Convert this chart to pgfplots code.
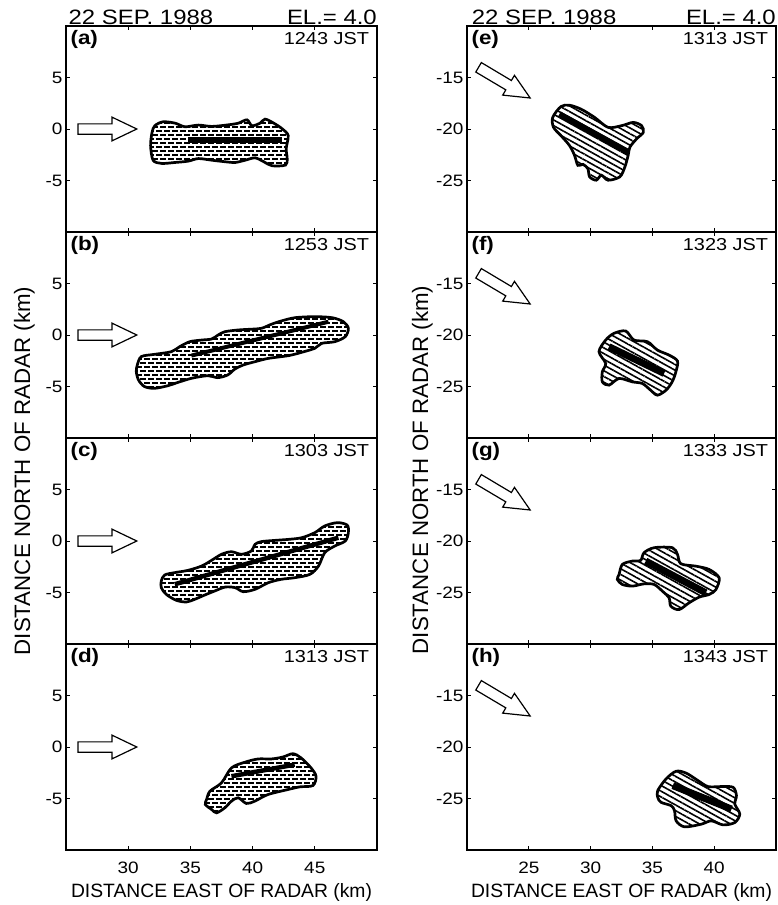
\documentclass[border=0pt]{standalone}
\usepackage{fontspec}
\setmainfont{Liberation Sans}[FakeStretch=1.15]
\newfontfamily\lblfont{Liberation Sans}
\usepackage{pgfplots}
\pgfplotsset{compat=1.18}
\usetikzlibrary{patterns,patterns.meta}

\pgfdeclarepatternformonly{hdash}{\pgfqpoint{-1pt}{-1pt}}{\pgfqpoint{11pt}{9pt}}{\pgfqpoint{8pt}{8pt}}{%
  \pgfsetlinewidth{1.5pt}%
  \pgfpathmoveto{\pgfqpoint{0pt}{2pt}}\pgfpathlineto{\pgfqpoint{5.5pt}{2pt}}%
  \pgfpathmoveto{\pgfqpoint{4pt}{6pt}}\pgfpathlineto{\pgfqpoint{9.5pt}{6pt}}%
  \pgfusepath{stroke}}

\pgfplotsset{
  base/.style={scale only axis, height=206pt, anchor=north west, clip=false,
    axis line style={line width=1.3pt}, major tick length=4pt,
    every tick/.style={black, line width=0.9pt},
    tick label style={font=\fontsize{16.5}{17}\selectfont},
    xticklabel style={anchor=base, yshift=-23pt}},
  leftcol/.style={base, width=311pt, xmin=25, xmax=50, ymin=-10, ymax=10,
    xtick={30,35,40,45}, ytick={-5,0,5}, yticklabels={-5,0,5}},
  rightcol/.style={base, width=309pt, xmin=20, xmax=45, ymin=-30, ymax=-10,
    xtick={25,30,35,40}, ytick={-25,-20,-15}, yticklabels={-25,-20,-15}},
  cellL/.style={draw=black, line width=2.7pt, smooth cycle, pattern=hdash},
  cellR/.style={draw=black, line width=2.7pt, smooth cycle, pattern={Lines[angle=-29,distance=5pt,line width=1.6pt]}},
  band/.style={black, line width=#1},
  arr/.style={draw=black, line width=1.2pt, fill=white, line join=miter},
}
\newcommand{\paneltext}[2]{%
  \node[anchor=north west, inner sep=0pt, font=\bfseries\fontsize{19.5}{20}\selectfont] at (rel axis cs:0.014,0.978) {(#1)};
  \node[anchor=north east, inner sep=0pt, font=\fontsize{17.3}{18}\selectfont] at (rel axis cs:0.975,0.972) {#2 JST};}
\newcommand{\larrow}{\addplot[arr] coordinates {(25.96,0.5) (28.7,0.5) (28.7,1.15) (30.69,0) (28.7,-1.15) (28.7,-0.5) (25.96,-0.5)} -- cycle;}
\newcommand{\rarrow}{\addplot[arr] coordinates {(21.16,-13.55) (23.59,-15.29) (23.84,-14.79) (25.11,-16.99) (22.89,-16.71) (23.14,-16.20) (20.71,-14.47)} -- cycle;}

\begin{document}
\begin{tikzpicture}
\useasboundingbox (0pt,0pt) rectangle (778pt,-905pt);
% ---------------- left column ----------------
\begin{axis}[leftcol, at={(66pt,-26pt)}, xticklabels={}]
\larrow
\addplot[cellL] coordinates {(32.14,0.32) (32.8,0.7) (33.76,0.57) (34.56,0.22) (35.64,0.38) (36.72,0.25) (38.07,0.41) (38.87,0.57) (39.55,0.89) (39.95,0.32) (40.6,0.57) (41.0,0.96) (41.7,0.57) (42.4,0) (42.86,-0.64) (42.7,-1.91) (42.78,-2.87) (42.65,-3.5) (41.57,-3.57) (40.9,-3.18) (40.2,-2.8) (39.4,-3.03) (38.6,-3.25) (37.8,-3.18) (36.72,-3.03) (35.64,-2.87) (34.83,-3.12) (33.76,-3.25) (32.68,-3.34) (32.0,-3.03) (31.8,-1.59) (31.92,-0.32)};
\addplot[band=6pt] coordinates {(34.83,-1.1) (42.4,-1.1)};
\paneltext{a}{1243}
\node[anchor=base west, inner sep=0pt, font=\fontsize{20.8}{21}\selectfont] at (rel axis cs:0.008,1) [yshift=2pt] {22 SEP. 1988};
\node[anchor=base east, inner sep=0pt, font=\fontsize{20.8}{21}\selectfont] at (rel axis cs:1,1) [yshift=2pt] {EL.= 4.0};
\end{axis}
\begin{axis}[leftcol, at={(66pt,-232pt)}, xticklabels={}]
\larrow
\addplot[cellL] coordinates {(30.73,-2.91) (31.05,-2.1) (32.1,-1.88) (33.47,-1.62) (34.14,-1.13) (34.95,-0.65) (35.9,-0.49) (36.7,-0.39) (37.23,0) (37.77,0.32) (38.84,0.49) (39.65,0.55) (40.7,0.65) (41.5,1.04) (42.3,1.36) (43.4,1.68) (45.0,1.78) (46.4,1.68) (47.3,1.29) (47.7,0.65) (47.45,-0.16) (46.6,-0.65) (45.56,-0.81) (45.0,-1.29) (43.95,-1.68) (42.9,-2.0) (41.26,-2.27) (40.2,-2.59) (39.25,-2.91) (38.58,-3.3) (38.0,-3.88) (37.2,-4.14) (36.4,-3.95) (35.1,-4.2) (34.0,-4.6) (33.2,-4.92) (32.1,-5.18) (31.3,-5.0) (30.83,-4.37) (30.65,-3.56)};
\addplot[band=4pt] coordinates {(35.08,-2.0) (46.1,1.29)};
\paneltext{b}{1253}
\end{axis}
\begin{axis}[leftcol, at={(66pt,-438pt)}, xticklabels={}]
\larrow
\addplot[cellL] coordinates {(32.66,-3.88) (32.93,-3.3) (33.74,-3.07) (34.8,-2.85) (35.9,-2.43) (36.7,-1.88) (37.5,-1.29) (38.3,-1.04) (39.1,-1.29) (39.9,-0.97) (40.2,-0.32) (40.7,-0.06) (41.8,0.06) (42.9,0.16) (43.95,0.32) (45.0,0.81) (45.8,1.46) (46.8,1.78) (47.6,1.55) (47.7,0.81) (47.45,0) (46.6,-0.49) (45.8,-1.13) (45.3,-2.43) (44.6,-3.24) (43.4,-3.56) (42.3,-3.72) (41.26,-4.05) (40.2,-4.69) (39.25,-4.92) (38.6,-4.53) (37.8,-4.47) (36.96,-4.85) (36.16,-5.24) (35.35,-5.66) (34.68,-5.92) (33.87,-5.76) (33.06,-5.18) (32.66,-4.53)};
\addplot[band=4.5pt] coordinates {(33.74,-4.2) (46.9,0.32)};
\paneltext{c}{1303}
\end{axis}
\begin{axis}[leftcol, at={(66pt,-644pt)}, xticklabels={30,35,40,45}]
\larrow
\addplot[cellL] coordinates {(36.3,-5.1) (36.57,-4.29) (37.5,-3.48) (38.3,-2.03) (39.37,-1.48) (40.44,-1.16) (41.5,-1.16) (42.44,-0.97) (43.24,-0.65) (43.9,-1.06) (44.7,-2.03) (45.1,-2.84) (44.85,-3.74) (43.78,-3.87) (42.84,-4.13) (41.24,-4.61) (40.17,-5.26) (39.5,-5.48) (38.84,-4.93) (38.3,-5.26) (37.77,-5.9) (37.1,-6.39) (36.7,-6.06) (36.2,-5.58)};
\addplot[band=4.5pt] coordinates {(38.3,-2.84) (43.38,-1.71)};
\paneltext{d}{1313}
\node[anchor=base, inner sep=0pt, font=\lblfont\fontsize{19.3}{19}\selectfont] at (rel axis cs:0.5,0) [yshift=-47pt] {DISTANCE EAST OF RADAR (km)};
\end{axis}
% ---------------- right column ----------------
\begin{axis}[rightcol, at={(467pt,-26pt)}, xticklabels={}]
\rarrow
\addplot[cellR] coordinates {(26.93,-18.88) (27.6,-17.82) (28.29,-17.69) (29.24,-18.08) (30.33,-18.88) (31.41,-19.84) (32.5,-19.68) (33.45,-19.36) (34.13,-19.68) (34.27,-20.32) (33.72,-20.96) (33.18,-21.76) (33.04,-22.56) (32.77,-23.69) (32.36,-24.65) (31.41,-24.97) (30.87,-24.49) (30.46,-24.97) (29.92,-24.65) (29.78,-23.85) (29.38,-23.43) (28.97,-23.53) (28.7,-22.56) (28.29,-21.6) (27.6,-20.64) (27.0,-19.84)};
\addplot[band=6pt] coordinates {(27.47,-18.56) (33.04,-22.24)};
\paneltext{e}{1313}
\node[anchor=base west, inner sep=0pt, font=\fontsize{20.8}{21}\selectfont] at (rel axis cs:0.015,1) [yshift=2pt] {22 SEP. 1988};
\node[anchor=base east, inner sep=0pt, font=\fontsize{20.8}{21}\selectfont] at (rel axis cs:1,1) [yshift=2pt] {EL.= 4.0};
\end{axis}
\begin{axis}[rightcol, at={(467pt,-232pt)}, xticklabels={}]
\rarrow
\addplot[cellR] coordinates {(30.68,-21.62) (31.22,-20.49) (31.89,-19.84) (32.84,-19.61) (33.51,-20.49) (34.6,-20.65) (35.4,-21.46) (36.35,-21.95) (37.03,-22.53) (36.9,-23.57) (36.6,-24.55) (36.1,-25.36) (35.4,-25.84) (34.86,-25.36) (34.19,-24.71) (33.38,-24.55) (32.3,-24.22) (31.49,-24.87) (30.95,-24.55) (30.95,-23.57) (31.22,-22.76)};
\addplot[band=7pt] coordinates {(31.49,-21.14) (35.95,-23.73)};
\paneltext{f}{1323}
\end{axis}
\begin{axis}[rightcol, at={(467pt,-438pt)}, xticklabels={}]
\rarrow
\addplot[cellR] coordinates {(32.3,-23.25) (32.57,-22.27) (33.38,-21.95) (34.05,-21.88) (34.32,-21.14) (35.14,-20.65) (36.62,-20.65) (37.03,-21.3) (37.3,-22.21) (38.51,-22.44) (39.59,-22.76) (40.4,-23.57) (40.14,-24.71) (39.59,-25.19) (38.78,-25.45) (37.97,-26.0) (37.16,-26.66) (36.49,-26.33) (36.35,-25.52) (35.81,-24.87) (35.14,-24.22) (34.32,-24.16) (33.38,-24.38) (32.57,-24.22) (32.16,-23.73)};
\addplot[band=7pt] coordinates {(34.46,-21.95) (39.32,-25.03)};
\paneltext{g}{1333}
\end{axis}
\begin{axis}[rightcol, at={(467pt,-644pt)}, xticklabels={25,30,35,40}]
\rarrow
\addplot[cellR] coordinates {(35.43,-24.23) (36.11,-23.09) (36.92,-22.35) (37.74,-22.54) (38.69,-23.26) (39.5,-23.84) (40.58,-23.84) (41.53,-23.91) (41.8,-24.72) (41.67,-25.54) (42.07,-26.51) (41.67,-27.33) (40.72,-27.56) (39.77,-27.17) (38.96,-27.49) (37.6,-27.75) (36.92,-27.17) (36.79,-26.19) (36.52,-25.7) (35.7,-25.37) (35.43,-24.89)};
\addplot[band=7pt] coordinates {(36.65,-23.75) (41.4,-26.03)};
\paneltext{h}{1343}
\node[anchor=base, inner sep=0pt, font=\lblfont\fontsize{19.3}{19}\selectfont] at (rel axis cs:0.5,0) [yshift=-47pt] {DISTANCE EAST OF RADAR (km)};
\end{axis}
% y labels
\node[rotate=90, anchor=base, inner sep=0pt, font=\lblfont\fontsize{22.3}{23}\selectfont] at (30pt,-471pt) {DISTANCE NORTH OF RADAR (km)};
\node[rotate=90, anchor=base, inner sep=0pt, font=\lblfont\fontsize{22.3}{23}\selectfont] at (428pt,-470pt) {DISTANCE NORTH OF RADAR (km)};
\end{tikzpicture}
\end{document}
